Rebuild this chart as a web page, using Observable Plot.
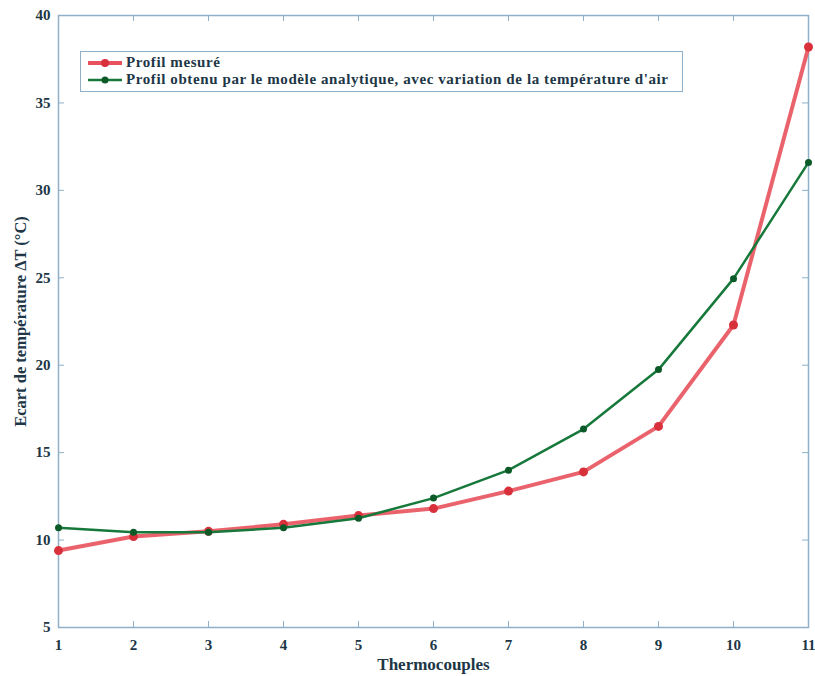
<!DOCTYPE html>
<html>
<head>
<meta charset="utf-8">
<script src="https://cdn.jsdelivr.net/npm/d3@7"></script>
<script src="https://cdn.jsdelivr.net/npm/@observablehq/plot@0.6"></script>
<style>
  body { margin: 0; background: #fff; }
  #wrap { position: relative; width: 815px; height: 676px; }
  #legend {
    position: absolute; left: 80px; top: 51px; width: 601px; height: 39px;
    border: 1.5px solid #8fb0c8; background: #fff;
    font-family: "Liberation Serif", serif; font-weight: bold; font-size: 15px; letter-spacing: 0.6px; color: #203646;
  }
  .item { position: absolute; left: 6px; height: 17px; display: flex; align-items: center; white-space: nowrap; }
  .item svg { margin-right: 3px; }
</style>
</head>
<body>
<div id="wrap"></div>
<script>
const thermocouples = [1, 2, 3, 4, 5, 6, 7, 8, 9, 10, 11];
const profilMesure = [9.4, 10.2, 10.5, 10.9, 11.4, 11.8, 12.8, 13.9, 16.5, 22.3, 38.2];
const profilModele = [10.7, 10.45, 10.45, 10.7, 11.25, 12.4, 14.0, 16.35, 19.75, 24.95, 31.6];
const xTicks = [1, 2, 3, 4, 5, 6, 7, 8, 9, 10, 11];
const yTicks = [5, 10, 15, 20, 25, 30, 35, 40];
const seriesNames = ["Profil mesuré", "Profil obtenu par le modèle analytique, avec variation de la température d'air"];

const red = "#e8525c";
const green = "#16783a";
const axisColor = "#8fb0c8";
const textColor = "#203646";

const mes = thermocouples.map((t, i) => ({x: t, y: profilMesure[i]}));
const mod = thermocouples.map((t, i) => ({x: t, y: profilModele[i]}));

const W = 815, H = 676;
const mL = 58, mR = 7, mT = 15, mB = 49;
const tick = 6;

const chart = Plot.plot({
  width: W, height: H,
  marginLeft: mL, marginRight: mR, marginTop: mT, marginBottom: mB,
  style: {fontFamily: "'Liberation Serif', serif", fontWeight: "bold", fontSize: "15px", color: textColor, background: "#fff"},
  x: {domain: [1, 11]},
  y: {domain: [5, 40]},
  marks: [
    Plot.frame({stroke: axisColor, strokeWidth: 1.5}),
    Plot.tickX(xTicks, {x: d => d, insetTop: H - mT - mB - tick, stroke: axisColor}),
    Plot.tickX(xTicks, {x: d => d, insetBottom: H - mT - mB - tick, stroke: axisColor}),
    Plot.tickY(yTicks, {y: d => d, insetRight: W - mL - mR - tick, stroke: axisColor}),
    Plot.tickY(yTicks, {y: d => d, insetLeft: W - mL - mR - tick, stroke: axisColor}),
    Plot.axisX(xTicks, {tickSize: 0, tickPadding: 12, fontSize: 15, label: null}),
    Plot.axisX({tickSize: 0, ticks: [], label: "Thermocouples", labelAnchor: "center", labelOffset: 42, labelArrow: "none", fontSize: 17}),
    Plot.axisY(yTicks, {tickSize: 0, tickPadding: 8, fontSize: 15, label: null}),
    Plot.axisY({tickSize: 0, ticks: [], label: "Ecart de température ΔT (°C)", labelAnchor: "center", labelOffset: 44, labelArrow: "none", fontSize: 16.5}),
    Plot.line(mes, {x: "x", y: "y", stroke: red, strokeWidth: 4, strokeOpacity: 0.9}),
    Plot.dot(mes, {x: "x", y: "y", r: 4.5, fill: "#d9313c", stroke: "none"}),
    Plot.line(mod, {x: "x", y: "y", stroke: green, strokeWidth: 2.5}),
    Plot.dot(mod, {x: "x", y: "y", r: 3.5, fill: "#0c5a28", stroke: "none"})
  ]
});

const wrap = document.getElementById("wrap");
wrap.appendChild(chart);

const legend = document.createElement("div");
legend.id = "legend";
const colors = [red, green];
const dotColors = ["#d9313c", "#0c5a28"];
const widths = [4, 2.5];
seriesNames.forEach((name, i) => {
  const it = document.createElement("div");
  it.className = "item";
  it.style.top = (2 + i * 17) + "px";
  it.innerHTML = `<svg width="36" height="12"><line x1="1" y1="6" x2="35" y2="6" stroke="${colors[i]}" stroke-width="${widths[i]}"/><circle cx="18" cy="6" r="${i === 0 ? 4 : 3.5}" fill="${dotColors[i]}"/></svg><span>${name}</span>`;
  legend.appendChild(it);
});
wrap.appendChild(legend);
</script>
</body>
</html>
